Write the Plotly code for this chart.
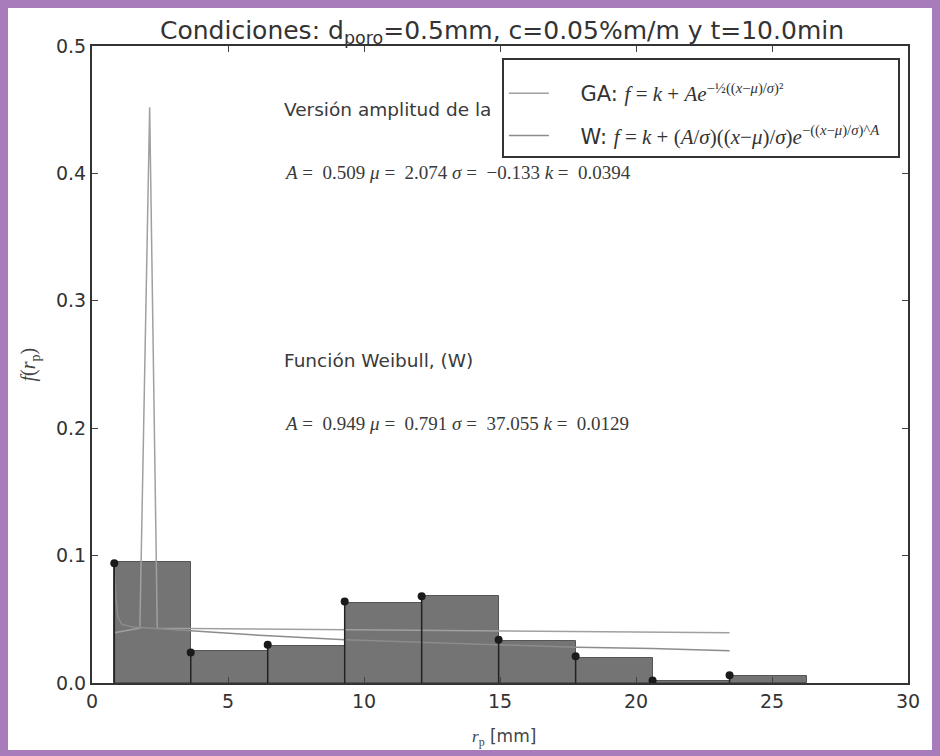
import plotly.graph_objects as go

# ---- data ----
bin_left = [0.82, 3.63, 6.46, 9.29, 12.12, 14.95, 17.78, 20.61, 23.44]
bin_width = 2.83
bar_height = [0.095, 0.025, 0.029, 0.063, 0.068, 0.033, 0.020, 0.0015, 0.0055]
point_value = [0.094, 0.024, 0.030, 0.064, 0.068, 0.034, 0.021, 0.002, 0.006]

ga_x = [0.82, 1.76, 2.12, 2.40, 23.44]
ga_y = [0.0394, 0.043, 0.452, 0.043, 0.0394]

w_x = [0.82, 0.88, 0.95, 1.1, 1.5, 3.6, 6.5, 9.3, 12.1, 15.0, 17.8, 20.6, 23.44]
w_y = [0.095, 0.066, 0.052, 0.046, 0.044, 0.041, 0.037, 0.034, 0.032, 0.030, 0.028, 0.027, 0.0254]

x_ticks = [0, 5, 10, 15, 20, 25, 30]
y_ticks = [0.0, 0.1, 0.2, 0.3, 0.4, 0.5]

SERIF = "Liberation Serif"
title_text = "Condiciones: d<sub>poro</sub>=0.5mm, c=0.05%m/m y t=10.0min"
ga_name = ("&nbsp;&nbsp;&nbsp;&nbsp;GA: <span style='font-family:Liberation Serif'><i>f</i> = <i>k</i> + <i>Ae</i>"
           "<sup>−½((<i>x</i>−<i>μ</i>)/<i>σ</i>)²</sup></span>")
w_name = ("&nbsp;&nbsp;&nbsp;&nbsp;W: <span style='font-family:Liberation Serif'><i>f</i> = <i>k</i> + "
          "(<i>A</i>/<i>σ</i>)((<i>x</i>−<i>μ</i>)/<i>σ</i>)<i>e</i>"
          "<sup>−((<i>x</i>−<i>μ</i>)/<i>σ</i>)^<i>A</i></sup></span>&nbsp;&nbsp;")

EQ = "&nbsp;=&nbsp;&nbsp;"
ann_texts = [
    (7.0, 0.450, "Versión amplitud de la", "DejaVu Sans", 18.5),
    (7.0, 0.401, f"<i>A</i>{EQ}0.509 <i>μ</i>{EQ}2.074 <i>σ</i>{EQ}−0.133 <i>k</i>{EQ}0.0394", SERIF, 19),
    (7.0, 0.253, "Función Weibull, (W)", "DejaVu Sans", 18.5),
    (7.0, 0.204, f"<i>A</i>{EQ}0.949 <i>μ</i>{EQ}0.791 <i>σ</i>{EQ}37.055 <i>k</i>{EQ}0.0129", SERIF, 19),
]

fig = go.Figure()

fig.add_trace(go.Bar(
    x=[b + bin_width / 2 for b in bin_left], y=bar_height, width=bin_width,
    marker=dict(color="#747474", line=dict(color="#555555", width=1)),
    showlegend=False, hoverinfo="skip"))

fig.add_trace(go.Scatter(x=ga_x, y=ga_y, mode="lines", name=ga_name, legendgroup="ga",
                         line=dict(color="#a0a0a0", width=1.5)))
fig.add_trace(go.Scatter(x=w_x, y=w_y, mode="lines", name=w_name, legendgroup="w",
                         line=dict(color="#8c8c8c", width=1.5)))

stem_x, stem_y = [], []
for xv, yv in zip(bin_left, point_value):
    stem_x += [xv, xv, None]
    stem_y += [0, yv, None]
fig.add_trace(go.Scatter(x=stem_x, y=stem_y, mode="lines",
                         line=dict(color="#222222", width=1.5),
                         showlegend=False, hoverinfo="skip"))
fig.add_trace(go.Scatter(x=bin_left, y=point_value, mode="markers",
                         marker=dict(color="#1a1a1a", size=8),
                         showlegend=False))

annotations = []
for xv, yv, txt, fam, sz in ann_texts:
    annotations.append(dict(x=xv, y=yv, xref="x", yref="y", text=txt, showarrow=False,
                            xanchor="left", yanchor="middle",
                            font=dict(family=fam, size=sz, color="#3a3a3a")))
annotations.append(dict(x=0.505, y=-0.086, xref="paper", yref="paper", showarrow=False,
                        text="<span style='font-family:Liberation Serif'><i>r</i><sub>p</sub></span> [mm]",
                        xanchor="center", yanchor="middle",
                        font=dict(family="DejaVu Sans", size=17, color="#444444")))
annotations.append(dict(x=-0.076, y=0.5, xref="paper", yref="paper", showarrow=False,
                        text="<i>f</i>(<i>r</i><sub>p</sub>)", textangle=-90,
                        xanchor="center", yanchor="middle",
                        font=dict(family=SERIF, size=20, color="#444444")))
annotations.append(dict(x=0.502, y=1.0, xref="paper", yref="paper", showarrow=False,
                        text=title_text, xanchor="center", yanchor="bottom", yshift=-4,
                        font=dict(family="DejaVu Sans", size=25, color="#333333")))

fig.update_layout(
    width=940, height=756,
    margin=dict(l=92, r=32, t=46, b=73),
    paper_bgcolor="#a87cba",
    plot_bgcolor="white",
    bargap=0,
    annotations=annotations,
    shapes=[dict(type="rect", xref="paper", yref="paper",
                 x0=-0.1029, x1=1.0294, y0=-0.1052, y1=1.0597,
                 fillcolor="white", line=dict(width=0), layer="below")],
    legend=dict(x=0.99, y=0.981, xanchor="right", yanchor="top",
                bgcolor="white", bordercolor="#333333", borderwidth=2,
                font=dict(family="DejaVu Sans", size=21, color="#333333"),
                title=dict(text="&nbsp;", font=dict(size=10)),
                tracegroupgap=12, itemwidth=40),
    xaxis=dict(range=[0, 30], tickvals=x_ticks, ticks="inside", ticklen=6,
               showline=True, linecolor="#333333", linewidth=2, mirror="ticks",
               showgrid=False, zeroline=False,
               tickfont=dict(family="DejaVu Sans", size=19, color="#333333")),
    yaxis=dict(range=[0, 0.5], tickvals=y_ticks, tickformat=".1f", ticks="inside", ticklen=6,
               showline=True, linecolor="#333333", linewidth=2, mirror="ticks",
               showgrid=False, zeroline=False,
               tickfont=dict(family="DejaVu Sans", size=19, color="#333333")),
)

fig.write_html("out.html", config={"displayModeBar": False},
               post_script="document.body.style.margin='0px';document.body.style.overflow='hidden';")
